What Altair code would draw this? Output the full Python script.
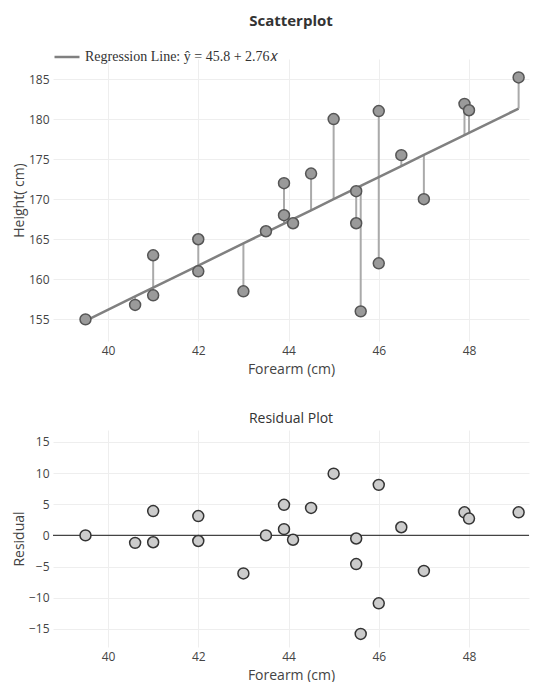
import altair as alt
import pandas as pd

forearm = [39.5, 40.6, 41.0, 41.0, 42.0, 42.0, 43.0, 43.5, 43.9, 43.9, 44.1, 44.5,
           45.0, 45.5, 45.5, 45.6, 46.0, 46.0, 46.5, 47.0, 47.9, 48.0, 49.1]
height = [155.0, 156.8, 163.0, 158.0, 165.0, 161.0, 158.5, 166.0, 172.0, 168.0, 167.0, 173.2,
          180.0, 171.0, 167.0, 156.0, 181.0, 162.0, 175.5, 170.0, 181.9, 181.1, 185.2]
residual = [0.0, -1.2, 3.9, -1.1, 3.1, -0.9, -6.1, 0.0, 4.9, 1.0, -0.7, 4.4,
            9.9, -0.5, -4.6, -15.8, 8.1, -10.9, 1.3, -5.7, 3.7, 2.7, 3.7]
height_ticks = [155, 160, 165, 170, 175, 180, 185]
residual_ticks = [-15, -10, -5, 0, 5, 10, 15]
forearm_ticks = [40, 42, 44, 46, 48]
intercept = 45.8
slope = 2.76
line_label = "Regression Line: ŷ = 45.8 + 2.76𝑥"

df = pd.DataFrame({"forearm": forearm, "height": height, "residual": residual})

FONT = "Open Sans"
W = 476

xscale = alt.Scale(domain=[38.78, 49.33], nice=False, zero=False)
xaxis = alt.Axis(title="Forearm (cm)", values=forearm_ticks, format="d", labelOverlap=False)

base = alt.Chart(df).transform_calculate(
    fitted=f"{intercept} + {slope} * datum.forearm",
    lbl=f"'{line_label}'",
)

yscale_top = alt.Scale(domain=[152.3, 187.5], nice=False, zero=False)
yaxis_top = alt.Axis(title="Height( cm)", values=height_ticks, labelOverlap=False)

stems = base.mark_rule(color="#aaaaaa", strokeWidth=2).encode(
    x=alt.X("forearm:Q", scale=xscale, axis=xaxis),
    y=alt.Y("height:Q", scale=yscale_top, axis=yaxis_top),
    y2="fitted:Q",
)

reg = base.mark_line(strokeWidth=2.5).encode(
    x=alt.X("forearm:Q", scale=xscale, axis=xaxis),
    y=alt.Y("fitted:Q", scale=yscale_top, axis=yaxis_top),
    color=alt.Color(
        "lbl:N",
        scale=alt.Scale(range=["#808080"]),
        legend=alt.Legend(
            orient="none", legendX=0, legendY=-16, title=None,
            symbolType="stroke", symbolSize=625, symbolStrokeWidth=2.5,
            labelFont="Liberation Serif", labelFontSize=14, labelColor="#333",
            labelLimit=400,
        ),
    ),
)

pts = base.mark_point(filled=True, size=120, fill="#9a9a9a", stroke="#555555",
                      strokeWidth=1.5, opacity=1).encode(
    x=alt.X("forearm:Q", scale=xscale, axis=xaxis),
    y=alt.Y("height:Q", scale=yscale_top, axis=yaxis_top),
)

top = alt.layer(stems, reg, pts).properties(
    width=W, height=282,
    title=alt.TitleParams("Scatterplot", fontWeight="bold", fontSize=15, font=FONT,
                          color="#333", anchor="middle", offset=30),
)

yscale_bot = alt.Scale(domain=[-17.9, 16.9], nice=False, zero=False)
yaxis_bot = alt.Axis(title="Residual", values=residual_ticks, labelOverlap=False)

zero = alt.Chart(pd.DataFrame({"z": [0]})).mark_rule(color="#444444", strokeWidth=1.2).encode(
    y=alt.Y("z:Q", scale=yscale_bot, axis=yaxis_bot),
)

rpts = alt.Chart(df).mark_point(filled=True, size=120, fill="#cccccc", stroke="#333333",
                                strokeWidth=1.5, opacity=1).encode(
    x=alt.X("forearm:Q", scale=xscale, axis=xaxis),
    y=alt.Y("residual:Q", scale=yscale_bot, axis=yaxis_bot),
)

bottom = alt.layer(zero, rpts).properties(
    width=W, height=217,
    title=alt.TitleParams("Residual Plot", fontWeight="normal", fontSize=14, font=FONT,
                          color="#333", anchor="middle", offset=4),
)

chart = alt.vconcat(top, bottom, spacing=36).properties(
    padding={"left": 4, "top": 6, "right": 0, "bottom": 0},
).configure_view(stroke=None).configure_axis(
    grid=True, gridColor="#eeeeee", gridWidth=1, domain=False, ticks=False,
    labelFont=FONT, labelFontSize=12, labelColor="#444444", labelPadding=4,
    labelOverlap=False,
    titleFont=FONT, titleFontSize=14, titleColor="#444444", titleFontWeight="normal",
).configure_axisX(titlePadding=6).configure_axisY(titlePadding=2
).configure_legend(labelFont="Liberation Serif")

chart.save("out.html", embed_options={"renderer": "svg", "actions": False})
